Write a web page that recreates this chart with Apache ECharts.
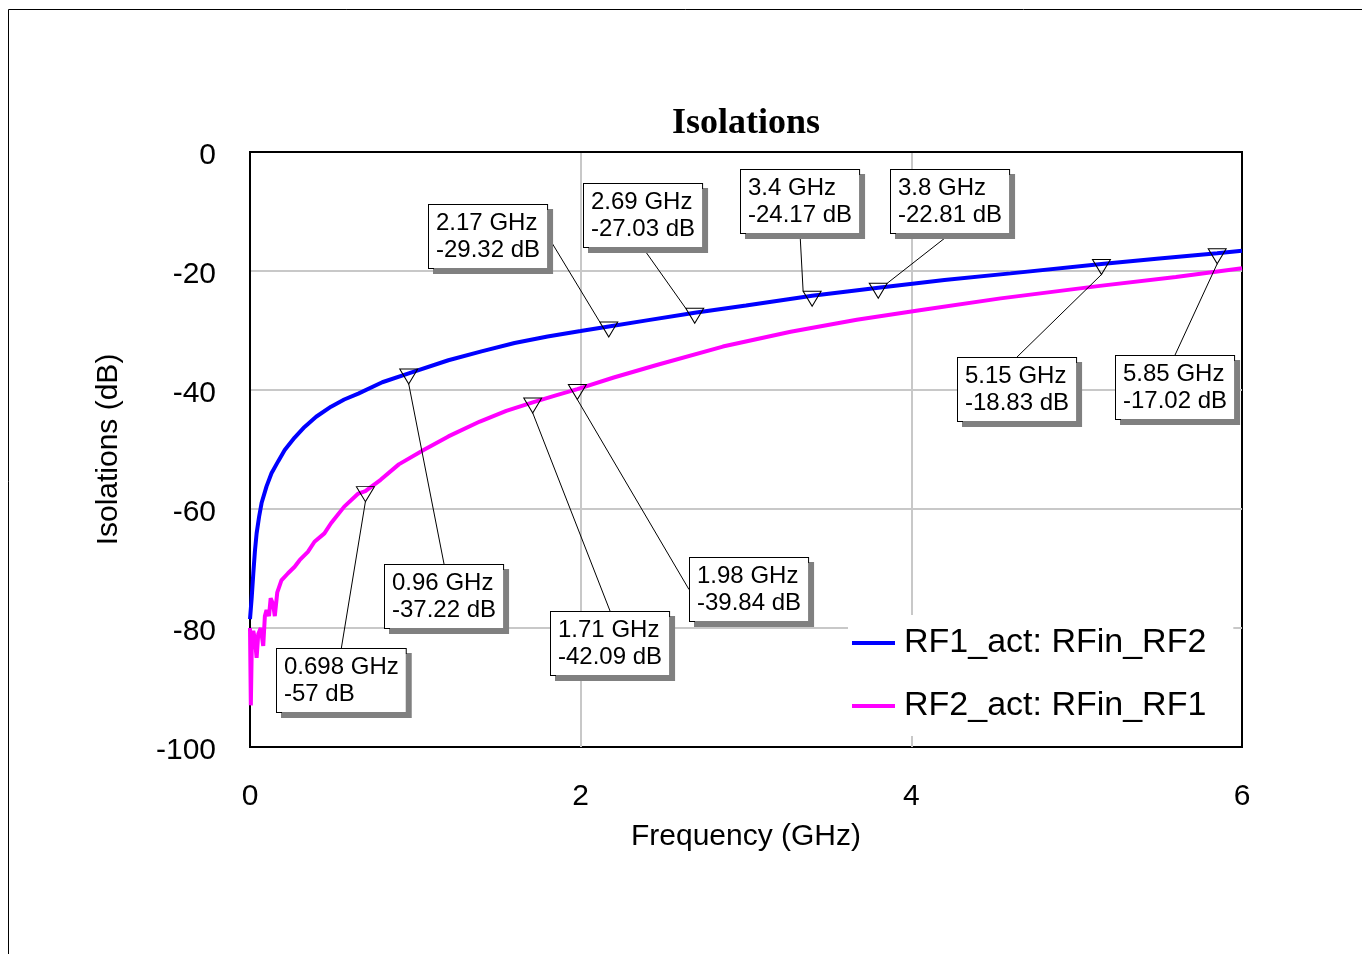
<!DOCTYPE html>
<html>
<head>
<meta charset="utf-8">
<script src="https://cdn.jsdelivr.net/npm/echarts@6/dist/echarts.min.js"></script>
<style>
  html, body { margin: 0; padding: 0; background: #fff; }
  #chart { width: 1362px; height: 954px; }
</style>
</head>
<body>
<div id="chart"></div>
<script>
// curve data (GHz, dB)
var freqBlue = [0, 0.01, 0.02, 0.03, 0.04, 0.055, 0.07, 0.1, 0.13, 0.17, 0.21, 0.27, 0.33, 0.4, 0.49, 0.57, 0.655, 0.8, 0.96, 1.2, 1.4, 1.6, 1.8, 2.0, 2.17, 2.4, 2.69, 3.0, 3.4, 3.8, 4.2, 4.6, 5.15, 5.5, 5.85, 6.0];
var isoBlue  = [-78.5, -75, -70.8, -67, -64.1, -61.3, -59, -56.2, -54, -52, -50.1, -48, -46.2, -44.5, -42.8, -41.6, -40.6, -38.7, -37.22, -35.0, -33.5, -32.1, -31.0, -30.1, -29.32, -28.3, -27.03, -25.8, -24.17, -22.81, -21.5, -20.4, -18.83, -17.9, -17.02, -16.6];

var freqMag = [0, 0.005, 0.012, 0.02, 0.03, 0.04, 0.05, 0.065, 0.08, 0.09, 0.1, 0.115, 0.125, 0.14, 0.15, 0.165, 0.19, 0.23, 0.27, 0.3, 0.35, 0.39, 0.45, 0.49, 0.57, 0.655, 0.698, 0.79, 0.9, 1.05, 1.2, 1.39, 1.55, 1.71, 1.85, 1.98, 2.2, 2.46, 2.86, 3.27, 3.67, 4.05, 4.54, 5.14, 5.6, 6.0];
var isoMag  = [-80, -93, -81, -80.5, -82, -85, -81, -80, -83, -78, -77, -78, -75, -76, -78, -74, -72, -70.8, -69.7, -68.6, -67.2, -65.5, -64.1, -62.4, -59.6, -57.4, -57, -55.1, -52.5, -50.1, -47.8, -45.3, -43.5, -42.09, -40.9, -39.84, -37.9, -35.8, -32.7, -30.2, -28.2, -26.6, -24.6, -22.5, -21, -19.55];

// markers
var mkFreqBlue = [0.96, 2.17, 2.69, 3.4, 3.8, 5.15, 5.85];
var mkIsoBlue  = [-37.22, -29.32, -27.03, -24.17, -22.81, -18.83, -17.02];
var mkFreqMag  = [0.698, 1.71, 1.98];
var mkIsoMag   = [-57, -42.09, -39.84];

var xTicks = [0, 2, 4, 6];
var yTicks = [0, -20, -40, -60, -80, -100];

var seriesNames = ['RF1_act: RFin_RF2', 'RF2_act: RFin_RF1'];

// label box top-left corners (px)
var boxBlue = [[385, 565], [429, 205], [584, 184], [741, 170], [891, 170], [958, 358], [1116, 356]];
var boxMag  = [[277, 649], [551, 612], [690, 558]];

function zip(a, b) {
    var out = [];
    for (var i = 0; i < a.length; i++) out.push([a[i], b[i]]);
    return out;
}

var font = 'Liberation Sans, Arial, sans-serif';

function markerSeries(fx, fy, boxes) {
    return {
        type: 'scatter',
        data: zip(fx, fy),
        symbol: 'triangle',
        symbolSize: [18, 15],
        symbolRotate: 180,
        symbolOffset: [0, 3],
        itemStyle: { color: 'rgba(0,0,0,0)', borderColor: '#000', borderWidth: 1, opacity: 1 },
        z: 5,
        label: {
            show: true,
            formatter: function (p) { return p.value[0] + ' GHz\n' + p.value[1] + ' dB'; },
            fontFamily: font,
            fontSize: 24,
            lineHeight: 27,
            color: '#000',
            opacity: 1,
            backgroundColor: '#fff',
            borderColor: '#000',
            borderWidth: 1,
            padding: [5, 7, 4, 7],
            shadowColor: '#808080',
            shadowOffsetX: 5,
            shadowOffsetY: 5,
            shadowBlur: 0
        },
        labelLine: { show: true, lineStyle: { color: '#000', width: 1, opacity: 1 } },
        labelLayout: function (p) {
            var b = boxes[p.dataIndex];
            return { x: b[0], y: b[1], align: 'left', verticalAlign: 'top', hideOverlap: false };
        },
        emphasis: { disabled: true },
        silent: true
    };
}

var chart = echarts.init(document.getElementById('chart'));
var option = {
    animation: false,
    backgroundColor: '#fff',
    title: {
        text: 'Isolations',
        left: 741,
        textAlign: 'center',
        top: 101,
        textStyle: { fontFamily: 'Liberation Serif, Times New Roman, serif', fontWeight: 'bold', fontSize: 36, color: '#000' }
    },
    grid: { left: 250, right: 120, top: 152, bottom: 207, show: true, borderColor: '#000', borderWidth: 2, backgroundColor: 'transparent' },
    legend: {
        data: seriesNames,
        orient: 'vertical',
        left: 848,
        top: 615,
        icon: 'rect',
        itemWidth: 43,
        itemHeight: 4,
        itemGap: 29,
        padding: [11, 27, 13, 4],
        backgroundColor: '#fff',
        textStyle: { fontFamily: font, fontSize: 34, color: '#000', padding: [0, 0, 0, 4] },
        selectedMode: false
    },
    xAxis: {
        type: 'value',
        min: 0, max: 6, interval: 2,
        name: 'Frequency (GHz)',
        nameLocation: 'middle',
        nameGap: 75,
        nameTextStyle: { fontFamily: font, fontSize: 30, color: '#000' },
        axisLine: { show: true, lineStyle: { color: '#000', width: 2 } },
        axisTick: { show: false },
        axisLabel: {
            fontFamily: font, fontSize: 30, color: '#000', margin: 35,
            formatter: function (v) { return xTicks.indexOf(v) >= 0 ? String(v) : ''; }
        },
        splitLine: { show: true, showMinLine: false, showMaxLine: false, lineStyle: { color: '#c8c8c8', width: 2 } }
    },
    yAxis: {
        type: 'value',
        min: -100, max: 0, interval: 20,
        name: 'Isolations (dB)',
        nameLocation: 'middle',
        nameGap: 126,
        nameTextStyle: { fontFamily: font, fontSize: 30, color: '#000' },
        axisLine: { show: true, lineStyle: { color: '#000', width: 2 } },
        axisTick: { show: false },
        axisLabel: {
            fontFamily: font, fontSize: 30, color: '#000', margin: 34,
            verticalAlign: 'top',
            lineHeight: 8,
            formatter: function (v) { return yTicks.indexOf(v) >= 0 ? String(v) : ''; }
        },
        splitLine: { show: true, showMinLine: false, showMaxLine: false, lineStyle: { color: '#c8c8c8', width: 2 } }
    },
    graphic: [
        { type: 'line', shape: { x1: 8.5, y1: 9.5, x2: 1362, y2: 9.5 }, style: { stroke: '#000', lineWidth: 1 }, silent: true },
        { type: 'line', shape: { x1: 8.5, y1: 9.5, x2: 8.5, y2: 954 }, style: { stroke: '#000', lineWidth: 1 }, silent: true }
    ],
    series: [
        {
            name: seriesNames[0],
            type: 'line',
            data: zip(freqBlue, isoBlue),
            showSymbol: false,
            lineStyle: { color: '#0000ff', width: 4 },
            itemStyle: { color: '#0000ff' },
            z: 3
        },
        {
            name: seriesNames[1],
            type: 'line',
            data: zip(freqMag, isoMag),
            showSymbol: false,
            lineStyle: { color: '#ff00ff', width: 4 },
            itemStyle: { color: '#ff00ff' },
            z: 3
        },
        markerSeries(mkFreqBlue, mkIsoBlue, boxBlue),
        markerSeries(mkFreqMag, mkIsoMag, boxMag)
    ]
};
chart.setOption(option);
</script>
</body>
</html>
